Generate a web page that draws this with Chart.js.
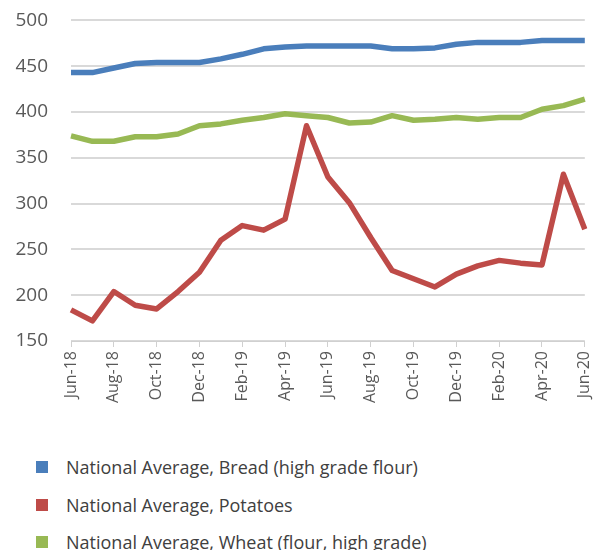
<!DOCTYPE html>
<html>
<head>
<meta charset="utf-8">
<script src="https://cdn.jsdelivr.net/npm/chart.js@4"></script>
<style>
  html, body { margin: 0; padding: 0; background: #fff; overflow: hidden; }
  #wrap { position: relative; width: 608px; height: 550px; overflow: hidden; }
  #c { position: absolute; left: 0; top: -14px; }
  #legend { position: absolute; left: 0; top: 0; width: 608px; font-family: "Open Sans", sans-serif; font-size: 18px; color: #404040; }
  .li { position: absolute; left: 36px; height: 20px; display: flex; align-items: center; white-space: nowrap; }
  .sw { width: 12px; height: 12px; margin-right: 18px; }
</style>
</head>
<body>
<div id="wrap">
  <canvas id="c" width="608" height="434"></canvas>
  <div id="legend"></div>
</div>
<script>
const categories = ["Jun-18","Jul-18","Aug-18","Sep-18","Oct-18","Nov-18","Dec-18","Jan-19","Feb-19","Mar-19","Apr-19","May-19","Jun-19","Jul-19","Aug-19","Sep-19","Oct-19","Nov-19","Dec-19","Jan-20","Feb-20","Mar-20","Apr-20","May-20","Jun-20"];
const bread = [443,443,448,453,454,454,454,458,463,469,471,472,472,472,472,469,469,470,474,476,476,476,478,478,478];
const potatoes = [184,172,204,189,185,204,225,260,276,271,283,385,329,301,263,227,218,209,223,232,238,235,233,332,272];
const wheat = [374,368,368,373,373,376,385,387,391,394,398,396,394,388,389,396,391,392,394,392,394,394,403,407,414];
const yTicks = [150,200,250,300,350,400,450,500];
const seriesNames = ["National Average, Bread (high grade flour)","National Average, Potatoes","National Average, Wheat (flour, high grade)"];
const seriesColors = ["#4a7ebb","#be4b48","#98b954"];

const ctx = document.getElementById('c').getContext('2d');
const chart = new Chart(ctx, {
  type: 'line',
  data: {
    labels: categories,
    datasets: [
      { label: seriesNames[0], data: bread, borderColor: seriesColors[0], backgroundColor: seriesColors[0] },
      { label: seriesNames[1], data: potatoes, borderColor: seriesColors[1], backgroundColor: seriesColors[1] },
      { label: seriesNames[2], data: wheat, borderColor: seriesColors[2], backgroundColor: seriesColors[2] }
    ]
  },
  options: {
    responsive: false,
    animation: false,
    layout: { padding: { top: 5, right: 21, left: 0, bottom: 0 } },
    elements: {
      line: { borderWidth: 5.5, tension: 0, borderCapStyle: 'butt', borderJoinStyle: 'round' },
      point: { radius: 0 }
    },
    plugins: { legend: { display: false }, tooltip: { enabled: false } },
    scales: {
      x: {
        offset: false,
        afterFit: (s) => { s.height = 79; },
        grid: { display: true, drawOnChartArea: false, drawTicks: true, tickLength: 6, color: '#d0d0d0', lineWidth: 1 },
        border: { display: true, color: '#d0d0d0', width: 1 },
        ticks: {
          autoSkip: false, minRotation: 90, maxRotation: 90, padding: 4,
          color: '#595959', font: { family: 'Open Sans', size: 16 },
          callback: function(v, i) { return i % 2 === 0 ? categories[i] : null; }
        }
      },
      y: {
        min: 150, max: 500,
        afterFit: (s) => { s.width = 71; },
        afterBuildTicks: (s) => { s.ticks = yTicks.map(v => ({ value: v })); },
        grid: { color: '#d9d9d9', lineWidth: 2, drawTicks: false },
        border: { display: false },
        ticks: { padding: 23, color: '#595959', font: { family: 'Open Sans', size: 19 } }
      }
    }
  }
});

const leg = document.getElementById('legend');
const tops = [467, 505, 542];
chart.data.datasets.forEach((ds, i) => {
  const d = document.createElement('div');
  d.className = 'li';
  d.style.top = (tops[i] - 10) + 'px';
  const sw = document.createElement('span');
  sw.className = 'sw';
  sw.style.background = ds.borderColor;
  const t = document.createElement('span');
  t.textContent = ds.label;
  d.appendChild(sw); d.appendChild(t);
  leg.appendChild(d);
});
</script>
</body>
</html>
